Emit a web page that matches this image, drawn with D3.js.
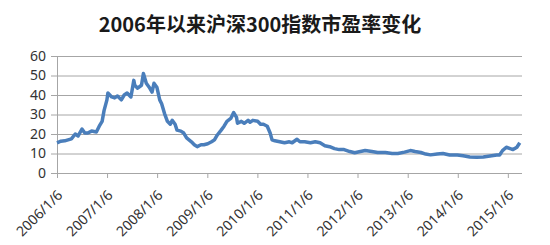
<!DOCTYPE html>
<html>
<head>
<meta charset="utf-8">
<script src="https://cdn.jsdelivr.net/npm/d3@7"></script>
<style>
  body { margin: 0; background: #fff; }
  svg { display: block; }
</style>
</head>
<body>
<div class="chart"></div>
<script>
// weekly-ish PE readings of the CSI 300
var dates = [
  "2006-01-06","2006-02-03","2006-03-03","2006-04-21","2006-05-19","2006-06-09","2006-07-07","2006-07-28",
  "2006-08-18","2006-09-15","2006-10-20","2006-11-10","2006-12-01","2006-12-15","2007-01-05","2007-01-12",
  "2007-02-09","2007-03-02","2007-03-23","2007-04-20","2007-05-11","2007-06-01","2007-06-29","2007-07-20",
  "2007-07-27","2007-08-17","2007-09-14","2007-09-28","2007-10-19","2007-11-09","2007-11-30","2007-12-14",
  "2008-01-04","2008-01-25","2008-02-08","2008-02-29","2008-03-21","2008-04-11","2008-04-25","2008-05-16",
  "2008-05-30","2008-06-27","2008-07-18","2008-08-08","2008-09-12","2008-10-03","2008-10-24","2008-11-21",
  "2008-12-12","2009-01-09","2009-02-06","2009-02-27","2009-03-20","2009-04-17","2009-05-08","2009-05-29",
  "2009-06-26","2009-07-17","2009-08-07","2009-08-14","2009-09-11","2009-10-02","2009-10-30","2009-11-13",
  "2009-12-04","2010-01-08","2010-01-29","2010-02-19","2010-03-19","2010-04-09","2010-04-23","2010-05-14",
  "2010-06-18","2010-07-23","2010-08-27","2010-09-17","2010-10-22","2010-11-12","2010-12-17","2011-01-28",
  "2011-03-04","2011-04-08","2011-05-13","2011-06-17","2011-07-22","2011-08-26","2011-09-30","2011-11-11",
  "2011-12-16","2012-01-27","2012-03-02","2012-04-20","2012-06-01","2012-07-27","2012-09-14","2012-10-26",
  "2012-12-14","2013-01-25","2013-03-01","2013-04-12","2013-05-17","2013-06-21","2013-08-09","2013-09-20",
  "2013-11-08","2014-01-03","2014-02-14","2014-04-04","2014-05-23","2014-07-11","2014-08-29","2014-10-17",
  "2014-11-07","2014-11-28","2014-12-26","2015-01-23","2015-02-13","2015-03-13","2015-04-03"
];
var pe = [
  15.5,16.3,16.5,17.5,20,19,22.5,20.5,
  20.5,21.5,21,24,26.5,32,37.5,41,
  39,38.5,39.5,37.5,40,41,39,47.5,
  45,43.5,45,51,46,44,41.5,46,
  44,37.5,35.5,30.5,26.5,25,27,25,
  22,21.5,20.5,18,16,14.5,13.5,14.5,
  14.5,15,16,17,19.5,22,24,26.5,
  28,31,28.5,25.5,26.5,25.5,27,26,
  27,26.5,25,25,24,20.5,17,16.5,
  16,15.5,16,15.5,17.3,16,16,15.5,
  16,15.5,14,13.5,12.5,12,12,11,
  10.4,11,11.5,11,10.5,10.5,10,10,
  10.7,11.5,11,10.5,9.7,9.3,9.7,10,
  9.2,9.2,8.8,8.2,8.1,8.2,8.7,9.2,
  9.2,11.5,13.2,12.5,12,13.2,15.5
];
var xTickLabels = ["2006/1/6","2007/1/6","2008/1/6","2009/1/6","2010/1/6",
                   "2011/1/6","2012/1/6","2013/1/6","2014/1/6","2015/1/6"];
var yTicks = [0, 10, 20, 30, 40, 50, 60];
var title = "2006年以来沪深300指数市盈率变化";

var width = 550, height = 245;
var margin = {left: 57, right: 29, top: 56, bottom: 72};

var parse = d3.timeParse("%Y-%m-%d");
var parseTick = d3.timeParse("%Y/%-m/%-d");
var data = dates.map(function(d, i) { return {date: parse(d), value: pe[i]}; });

var svg = d3.select(".chart").append("svg")
  .attr("width", width).attr("height", height);

var x = d3.scaleTime()
  .domain([parse("2006-01-06"), parse("2015-04-12")])
  .range([margin.left, width - margin.right]);
var y = d3.scaleLinear()
  .domain([0, 60])
  .range([height - margin.bottom, margin.top]);

var font = "'Noto Sans', 'DejaVu Sans', sans-serif";
var gridColor = "#a6a6a6";

// horizontal gridlines + y axis
var yAxis = svg.append("g")
  .attr("transform", "translate(" + margin.left + ",0)")
  .call(d3.axisLeft(y).tickValues(yTicks).tickSize(6).tickPadding(5));
yAxis.select(".domain").attr("stroke", gridColor);
yAxis.selectAll(".tick line").attr("stroke", gridColor);
yAxis.selectAll(".tick").append("line")
  .attr("x1", 0).attr("x2", width - margin.right - margin.left + 1)
  .attr("stroke", gridColor).attr("stroke-width", 1);
yAxis.selectAll("text")
  .style("font-family", font).style("font-size", "14px").attr("fill", "#333");

// x axis
var xAxis = svg.append("g")
  .attr("transform", "translate(0," + y(0) + ")")
  .call(d3.axisBottom(x)
        .tickValues(xTickLabels.map(parseTick))
        .tickFormat(d3.timeFormat("%Y/%-m/%-d"))
        .tickSize(5).tickSizeOuter(0));
xAxis.select(".domain").attr("stroke", gridColor);
xAxis.selectAll(".tick line").attr("stroke", gridColor);
xAxis.selectAll("text")
  .style("font-family", font).style("font-size", "14px").attr("fill", "#333")
  .attr("text-anchor", "end")
  .attr("dy", 0)
  .attr("y", 0)
  .attr("transform", "translate(6,23) rotate(-45)");

// PE line
var line = d3.line()
  .x(function(d) { return x(d.date); })
  .y(function(d) { return y(d.value); });

svg.append("path")
  .datum(data)
  .attr("d", line)
  .attr("fill", "none")
  .attr("stroke", "#4a7ebb")
  .attr("stroke-width", 3.5)
  .attr("stroke-linejoin", "round");

// title
svg.append("text")
  .attr("x", 260).attr("y", 32)
  .attr("text-anchor", "middle")
  .style("font-family", "'Noto Sans CJK SC', sans-serif")
  .style("font-weight", "bold")
  .style("font-size", "20px")
  .attr("fill", "#1a1a1a")
  .text(title);
</script>
</body>
</html>
